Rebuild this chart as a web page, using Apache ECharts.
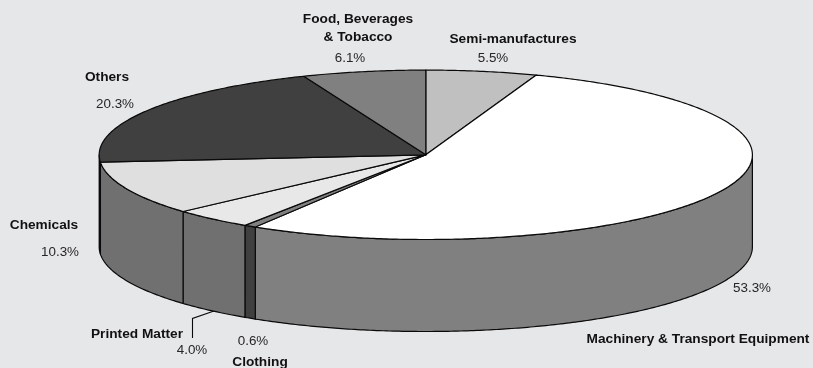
<!DOCTYPE html>
<html>
<head>
<meta charset="utf-8">
<style>html,body{margin:0;padding:0;background:#e6e7e9}#c{width:813px;height:368px}</style>
<script src="https://cdn.jsdelivr.net/npm/echarts@6/dist/echarts.min.js"></script>
</head>
<body>
<div id="c"></div>
<script>
var categories = ['Semi-manufactures','Machinery & Transport Equipment','Clothing','Printed Matter','Chemicals','Others','Food, Beverages & Tobacco'];
var shares = [5.5, 53.3, 0.6, 4.0, 10.3, 20.3, 6.1];
var shareLabels = ['5.5%','53.3%','0.6%','4.0%','10.3%','20.3%','6.1%'];

var topColors = ['#c0c0c0','#ffffff','#808080','#e8e8e8','#dfdfdf','#404040','#808080'];
var sideColors = ['#606060','#808080','#404040','#707070','#707070','#303030','#606060'];

var G = {cx:425.8, cy:154.8, rx:326.6, ry:84.7, depth:92};
var total = shares.reduce(function(a,b){return a+b;},0);
var LINE = '#0a0a0a';
var LW = 1.2;
var FONT = '"Liberation Sans", Arial, Helvetica, sans-serif';

function pt(t, dy){ return [G.cx + G.rx*Math.sin(t), G.cy - G.ry*Math.cos(t) + (dy||0)]; }
function arc(a, b, dy){
  var n = Math.max(2, Math.ceil(Math.abs(b-a)/0.01)), out = [];
  for (var i=0;i<=n;i++) out.push(pt(a+(b-a)*i/n, dy));
  return out;
}

function renderItem(params, api){
  var i = params.dataIndex, before = 0;
  for (var k=0;k<i;k++) before += shares[k];
  var a = before/total*2*Math.PI;
  var b = (before+api.value(0))/total*2*Math.PI;
  var children = [];
  var sa = Math.max(a, Math.PI/2), sb = Math.min(b, 3*Math.PI/2);
  if (sb > sa){
    var side = arc(sa,sb,0).concat(arc(sb,sa,G.depth));
    children.push({type:'polygon', shape:{points:side}, style:{fill:sideColors[i], stroke:LINE, lineWidth:LW, lineJoin:'round'}});
  }
  var top = [[G.cx,G.cy]].concat(arc(a,b,0));
  children.push({type:'polygon', shape:{points:top}, style:{fill:topColors[i], stroke:LINE, lineWidth:LW, lineJoin:'round'}});
  return {type:'group', children:children};
}

var nameSpots = [
  {lines:['Semi-manufactures'], x:513, y:39},
  {lines:['Machinery & Transport Equipment'], x:698, y:339},
  {lines:['Clothing'], x:260, y:362},
  {lines:['Printed Matter'], x:137, y:334},
  {lines:['Chemicals'], x:44, y:225},
  {lines:['Others'], x:107, y:77},
  {lines:['Food, Beverages','& Tobacco'], x:358, y:19}
];
var valueSpots = [[493,58],[752,288],[253,341],[192,350],[60,252],[115,104],[350,58]];

var graphics = [];
categories.forEach(function(c,i){
  var s = nameSpots[i];
  s.lines.forEach(function(l,j){
    graphics.push({type:'text', x:s.x, y:s.y+j*18, style:{text:l, font:'bold 13.7px '+FONT, fill:'#111111', align:'center', verticalAlign:'middle'}});
  });
  graphics.push({type:'text', x:valueSpots[i][0], y:valueSpots[i][1], style:{text:shareLabels[i], font:'13.4px '+FONT, fill:'#262626', align:'center', verticalAlign:'middle'}});
});
graphics.push({type:'polyline', shape:{points:[[214,311],[192.5,318.5],[192.5,338]]}, style:{stroke:LINE, lineWidth:1.1, fill:null}});

var chart = echarts.init(document.getElementById('c'), null, {renderer:'canvas'});
chart.setOption({
  animation:false,
  backgroundColor:'#e6e7e9',
  series:[{
    type:'custom', coordinateSystem:'none', renderItem:renderItem,
    data:shares.map(function(v,i){return {name:categories[i], value:[v]};})
  }],
  graphic:{elements:graphics}
});
</script>
</body>
</html>
